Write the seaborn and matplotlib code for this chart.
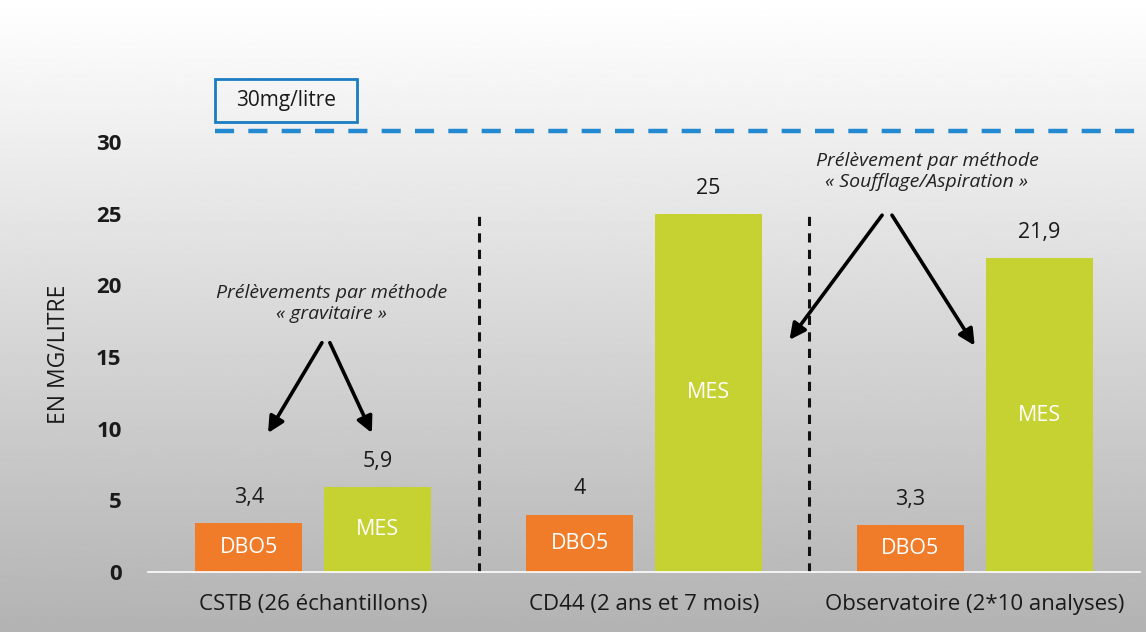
import matplotlib
import numpy as np
import pandas as pd
import seaborn as sns
from matplotlib import pyplot as plt
from matplotlib.patches import Rectangle

matplotlib.use('agg')

# Données
sites = ["CSTB (26 échantillons)", "CD44 (2 ans et 7 mois)", "Observatoire (2*10 analyses)"]
parametres = ["DBO5", "MES"]
dbo5 = [3.4, 4, 3.3]
mes = [5.9, 25, 21.9]
limite = 30.8  # ligne pointillée "30mg/litre"
yticks = [0, 5, 10, 15, 20, 25, 30]

ORANGE = "#F07C2A"
VERT = "#C5D232"
BLEU = "#2389D0"

df = pd.DataFrame({
    "site": sites * 2,
    "parametre": ["DBO5"] * 3 + ["MES"] * 3,
    "valeur": dbo5 + mes,
})

sns.set_theme(style="white")
plt.rcParams['font.family'] = ['Open Sans', 'DejaVu Sans']

fig = plt.figure(figsize=(11.46, 6.32), dpi=100)

# fond dégradé blanc -> gris
bg = fig.add_axes([0, 0, 1, 1], zorder=-10)
grad = np.linspace(1.0, 0.70, 256)
bg.imshow(grad[:, None], aspect='auto', cmap='gray', vmin=0, vmax=1,
          extent=[0, 1, 0, 1])
bg.axis('off')

ax = fig.add_axes([148 / 1146, 60 / 632, 992 / 1146, 572 / 632])
ax.set_facecolor('none')

sns.barplot(df, x="site", y="valeur", hue="parametre", palette=[ORANGE, VERT],
            width=0.78, gap=0.17, saturation=1, legend=False, linewidth=0, ax=ax)

ax.set_xlim(-0.5, 2.5)
ax.set_ylim(0, 572 / 14.33)
ax.set_yticks(yticks)
ax.set_yticklabels([str(t) for t in yticks], fontsize=16, fontweight='bold', color='#1a1a1a')
ax.tick_params(axis='y', length=0, pad=19)
ax.tick_params(axis='x', length=0, pad=16, labelsize=16, labelcolor='#1a1a1a')
ax.set_xlabel("")
ax.set_ylabel("EN MG/LITRE", fontsize=16.5, color='#1a1a1a')
ax.yaxis.set_label_coords(-0.078, 0.381)

for side in ['top', 'right', 'left']:
    ax.spines[side].set_visible(False)
ax.spines['bottom'].set_color('white')
ax.spines['bottom'].set_linewidth(1.2)

# étiquettes des barres
for cont, nom in zip(ax.containers, parametres):
    for bar in cont:
        h = bar.get_height()
        cx = bar.get_x() + bar.get_width() / 2
        ax.annotate(f"{h:g}".replace(".", ","), (cx, h), xytext=(0, 18.5),
                    textcoords='offset points', ha='center', va='center',
                    fontsize=15.5, color='#1a1a1a')
        ax.text(cx, h / 2, nom, ha='center', va='center', fontsize=15.5, color='white')

# séparateurs verticaux
ax.vlines([0.5, 1.5], 0, 25.0, colors='#111111', linewidth=2.2,
          linestyles=(0, (3, 2.4)))

# seuil 30 mg/litre
ax.axhline(limite, xmin=67 / 992, xmax=1.0, color=BLEU, linewidth=3.2,
           linestyle=(0, (4.3, 3.2)), clip_on=False)
ax.add_patch(Rectangle((-0.298, 31.4), 0.429, 3.0, facecolor='none',
                       edgecolor='#1A7CC1', linewidth=2, clip_on=False))
ax.text(-0.083, 32.9, "30mg/litre", fontsize=15, color='#1a1a1a', va='center', ha='center')

# annotations méthodes
ax.text(0.056, 18.75, "Prélèvements par méthode\n« gravitaire »", ha='center', va='center',
        fontsize=14, style='italic', color='#222222', linespacing=1.25)
ax.text(1.856, 27.95, "Prélèvement par méthode\n« Soufflage/Aspiration »", ha='center', va='center',
        fontsize=14, style='italic', color='#222222', linespacing=1.25)

fleches = [
    ((0.026, 16.0), (-0.137, 9.7)),
    ((0.05, 16.0), (0.177, 9.7)),
    ((1.72, 24.9), (1.44, 16.2)),
    ((1.75, 24.9), (2.0, 15.8)),
]
for depart, arrivee in fleches:
    ax.annotate("", xy=arrivee, xytext=depart,
                arrowprops=dict(arrowstyle='-|>', color='black', lw=2.6,
                                mutation_scale=24, shrinkA=0, shrinkB=0))

fig.savefig("out.png", dpi=100)
